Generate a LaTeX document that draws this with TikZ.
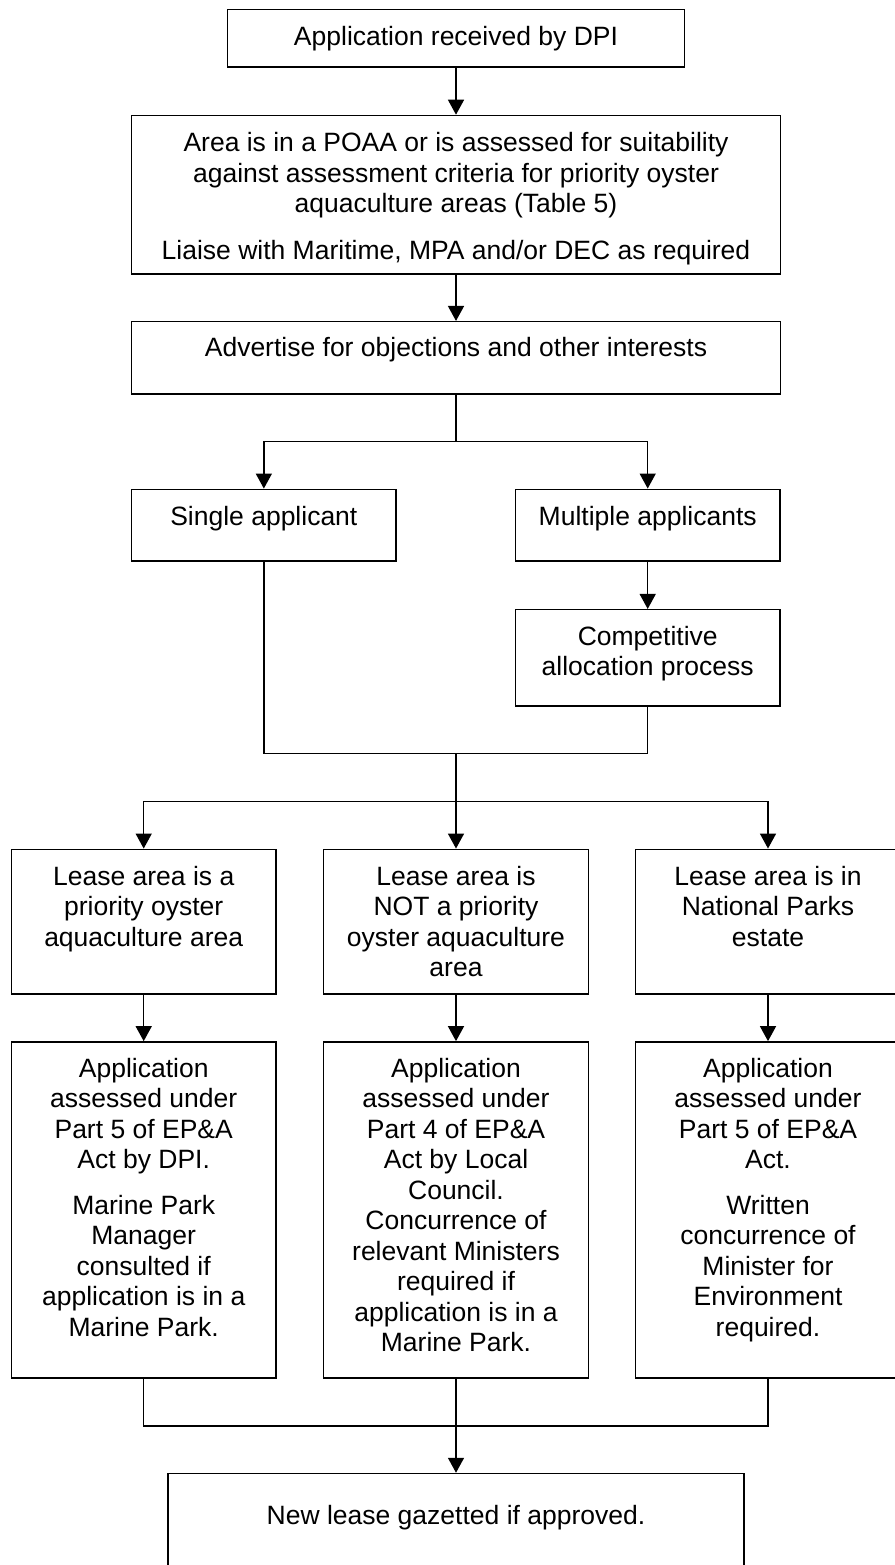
\documentclass[tikz,border=0pt]{standalone}
\usepackage{fontspec}
\setmainfont{Liberation Sans}
\usetikzlibrary{arrows.meta}
\begin{document}
\begin{tikzpicture}[x=1pt,y=-1pt,
  box/.style={draw=black, line width=1.5pt, rectangle, inner sep=0pt, fill=white},
  txt/.style={anchor=north, align=center, inner sep=0pt, font=\fontsize{26.5}{30.5}\selectfont},
  conn/.style={line width=1.5pt},
  arr/.style={conn, -{Triangle[length=15pt,width=16pt]}}]
\useasboundingbox (0,0) rectangle (894,1565);
% boxes
\node[box, minimum width=457pt, minimum height=57.5pt] (b1) at (456,38.2) {};
\node[box, minimum width=649pt, minimum height=158.3pt] (b2) at (456,194.6) {};
\node[box, minimum width=649pt, minimum height=72.3pt] (b3) at (456,357.85) {};
\node[box, minimum width=264.3pt, minimum height=71.7pt] (bs) at (263.85,525.15) {};
\node[box, minimum width=264.6pt, minimum height=71.7pt] (bm) at (647.7,525.15) {};
\node[box, minimum width=264.6pt, minimum height=96.3pt] (bc) at (647.7,657.85) {};
\node[box, minimum width=264.6pt, minimum height=144.7pt] (l1) at (143.7,921.65) {};
\node[box, minimum width=264.6pt, minimum height=144.7pt] (l2) at (456,921.65) {};
\node[box, minimum width=264.6pt, minimum height=144.7pt] (l3) at (768,921.65) {};
\node[box, minimum width=264.6pt, minimum height=336.1pt] (a1) at (143.7,1209.95) {};
\node[box, minimum width=264.6pt, minimum height=336.1pt] (a2) at (456,1209.95) {};
\node[box, minimum width=264.6pt, minimum height=336.1pt] (a3) at (768,1209.95) {};
\node[box, minimum width=576.4pt, minimum height=126.5pt] (bf) at (456,1536.75) {};
% texts
\node[txt] (t1) at (456,25.7) {Application received by DPI};
\node[txt] (t2) at (456,132.3) {Area is in a POAA or is assessed for suitability\\against assessment criteria for priority oyster\\aquaculture areas (Table 5)\\[16.5pt]Liaise with Maritime, MPA and/or DEC as required};
\node[txt] (t3) at (456,337.3) {Advertise for objections and other interests};
\node[txt] (ts) at (263.85,505.7) {Single applicant};
\node[txt] (tm) at (647.7,505.7) {Multiple applicants};
\node[txt] (tc) at (647.7,625.7) {Competitive\\allocation process};
\node[txt] (tl1) at (143.7,865.7) {Lease area is a\\priority oyster\\aquaculture area};
\node[txt] (tl2) at (456,865.7) {Lease area is\\NOT a priority\\oyster aquaculture\\area};
\node[txt] (tl3) at (768,865.7) {Lease area is in\\National Parks\\estate};
\node[txt] (ta1) at (143.7,1057.9) {Application\\assessed under\\Part 5 of EP\&A\\Act by DPI.\\[14.7pt]Marine Park\\Manager\\consulted if\\application is in a\\Marine Park.};
\node[txt] (ta2) at (456,1057.9) {Application\\assessed under\\Part 4 of EP\&A\\Act by Local\\Council.\\Concurrence of\\relevant Ministers\\required if\\application is in a\\Marine Park.};
\node[txt] (ta3) at (768,1057.9) {Application\\assessed under\\Part 5 of EP\&A\\Act.\\[14.7pt]Written\\concurrence of\\Minister for\\Environment\\required.};
\node[txt] (tf) at (456,1505) {New lease gazetted if approved.};
% junctions
\coordinate (j1) at (456,441.7);
\coordinate (j2) at (456,753.7);
\coordinate (j3) at (456,801.7);
\coordinate (j4) at (456,1426);
% connectors
\draw[arr] (b1.south) -- (b2.north);
\draw[arr] (b2.south) -- (b3.north);
\draw[conn] (b3.south) -- (j1);
\draw[arr] (j1) -| (bs.north);
\draw[arr] (j1) -| (bm.north);
\draw[arr] (bm.south) -- (bc.north);
\draw[conn] (bs.south) |- (j2);
\draw[conn] (bc.south) |- (j2);
\draw[conn] (j2) -- (j3);
\draw[arr] (j3) -- (l2.north);
\draw[arr] (j3) -| (l1.north);
\draw[arr] (j3) -| (l3.north);
\draw[arr] (l1.south) -- (a1.north);
\draw[arr] (l2.south) -- (a2.north);
\draw[arr] (l3.south) -- (a3.north);
\draw[conn] (a1.south) |- (j4);
\draw[conn] (a3.south) |- (j4);
\draw[arr] (a2.south) -- (bf.north);
\end{tikzpicture}
\end{document}
